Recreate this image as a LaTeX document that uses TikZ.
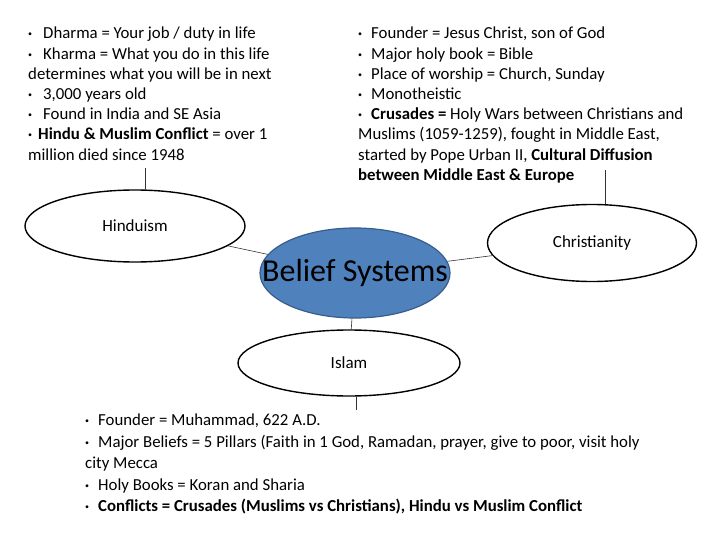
\documentclass[tikz,border=0pt]{standalone}
\usepackage{fontspec}
\setmainfont{Carlito}
\usepackage{tikz}
\usetikzlibrary{shapes.geometric}
\usepackage{xcolor}
\definecolor{beliefblue}{HTML}{4F81BD}
\definecolor{beliefedge}{HTML}{385D8A}
\newcommand{\bul}[1][13pt]{\makebox[#1][l]{\raisebox{0.12em}{\footnotesize•}}}

\begin{document}
\begin{tikzpicture}[
    x=1pt, y=-1pt,
    topic/.style={ellipse, draw=black, line width=1.4pt, fill=white, inner xsep=-20pt, inner ysep=0pt, font=\fontsize{17}{20}\selectfont},
    centre/.style={ellipse, draw=beliefedge, line width=1.2pt, fill=beliefblue, inner xsep=-26pt, inner ysep=-6pt, font=\fontsize{32}{34}\selectfont},
    info/.style={anchor=north west, inner sep=0pt, align=left, font=\fontsize{16.8}{20.2}\selectfont},
    link/.style={draw=black!80, line width=0.6pt}
]
\useasboundingbox (0,0) rectangle (720,540);

\node[centre, minimum width=190pt, minimum height=90pt] (belief) at (355,273) {Belief Systems};
\node[topic, minimum width=220pt, minimum height=72pt] (hindu) at (135,226) {Hinduism};
\node[topic, minimum width=209pt, minimum height=77pt] (christ) at (592,243) {Christianity};
\node[topic, minimum width=222pt, minimum height=66pt] (islam) at (349,363) {Islam};

\node[info] (hinduinfo) at (28,27) {\bul[15pt]Dharma = Your job / duty in life\\
\bul[15pt]Kharma =  What you do in this life\\
determines what you will be in next\\
\bul[15pt]3,000 years old\\
\bul[15pt]Found in India and SE Asia\\
\bul[10pt]\textbf{Hindu \& Muslim Conflict} = over 1\\
million died since 1948};
\node[info] (christinfo) at (358,27) {\bul Founder = Jesus Christ, son of God\\
\bul Major holy book =  Bible\\
\bul Place of worship = Church, Sunday\\
\bul Monotheistic\\
\bul\textbf{Crusades =} Holy Wars between Christians and\\
Muslims  (1059-1259), fought in Middle East,\\
started by Pope Urban II,  \textbf{Cultural Diffusion}\\
\textbf{between Middle East \& Europe}};
\node[info, font=\fontsize{16.8}{21.5}\selectfont] (islaminfo) at (85,414) {\bul Founder = Muhammad, 622 A.D.\\
\bul Major Beliefs = 5 Pillars (Faith in 1 God, Ramadan, prayer,  give to poor, visit holy\\
city Mecca\\
\bul Holy Books = Koran and Sharia\\
\bul\textbf{Conflicts = Crusades (Muslims vs Christians), Hindu vs Muslim Conflict}};

\coordinate (htop) at (145,168);
\coordinate (ctop) at (605,170);
\coordinate (ibot) at (356,410);

\draw[link] (hindu) -- (belief);
\draw[link] (christ) -- (belief);
\draw[link] (belief) -- (islam);
\draw[link] (hindu.north -| htop) -- (htop);
\draw[link] (christ.north -| ctop) -- (ctop);
\draw[link] (islam.south -| ibot) -- (ibot);
\end{tikzpicture}
\end{document}
